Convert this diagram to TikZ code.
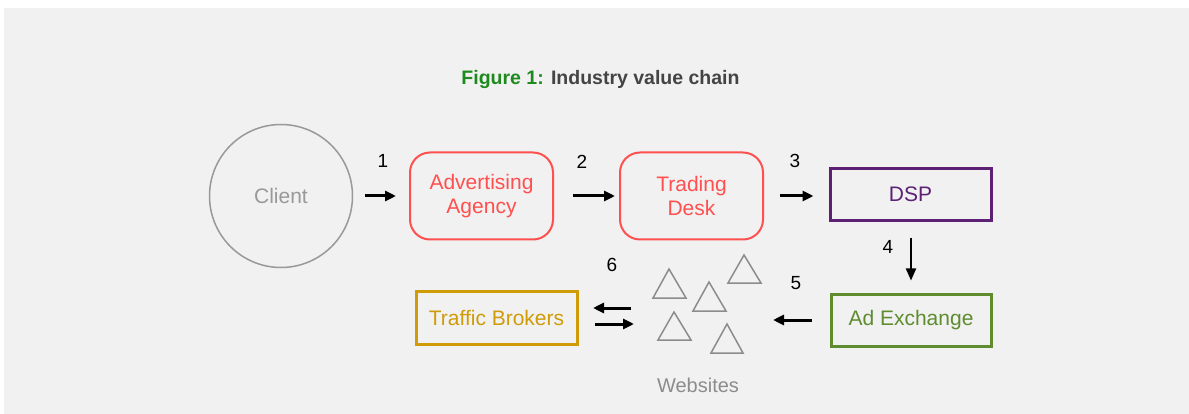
\documentclass[tikz,border=0pt]{standalone}
\usepackage{fontspec}
\setmainfont{Liberation Sans}
\usetikzlibrary{arrows.meta}
\definecolor{bggray}{HTML}{F1F1F1}
\definecolor{agencyred}{HTML}{FF4F4F}
\definecolor{dsppurple}{HTML}{5C2175}
\definecolor{adxgreen}{HTML}{5E8C2E}
\definecolor{brokergold}{HTML}{CF9C08}
\definecolor{clientgray}{HTML}{999999}
\definecolor{sitegray}{HTML}{8C8C8C}
\definecolor{titlegreen}{HTML}{1E8A1E}
\definecolor{titlegray}{HTML}{444444}
\tikzset{
  lbl/.style={font=\fontsize{21}{24}\selectfont, align=center, inner sep=0pt},
  roundbox/.style={lbl, draw=agencyred, text=agencyred, line width=2pt,
    rounded corners=20pt, minimum width=143pt, minimum height=87pt},
  flatbox/.style={lbl, line width=3pt, minimum width=160pt, minimum height=52pt},
  num/.style={font=\fontsize{19}{22}\selectfont, inner sep=0pt},
  arr/.style={line width=3pt, -{Triangle[length=11pt,width=10pt]}},
  thinarr/.style={line width=2pt, -{Triangle[length=12pt,width=10pt]}},
  site/.style={draw=sitegray, line width=1.5pt, line join=miter}
}
\begin{document}
\begin{tikzpicture}[x=1pt, y=-1pt]
  % canvas and backdrop
  \useasboundingbox (0,0) rectangle (1189,414);
  \fill[white] (0,0) rectangle (1189,414);
  \fill[bggray] (4,8) rectangle (1189,414);

  % caption
  \node[font=\bfseries\fontsize{19.5}{22}\selectfont, inner sep=0pt] (title) at (600.5,80)
    {\textcolor{titlegreen}{Figure 1:} \textcolor{titlegray}{Industry value chain}};

  % top row
  \node[lbl, circle, draw=clientgray, line width=1.5pt, text=clientgray,
        minimum size=143pt] (client) at (281,196) {Client};
  \node[roundbox] (agency) at (481.5,196) {Advertising\\Agency};
  \node[roundbox] (desk) at (691.5,196) {Trading\\Desk};
  \node[flatbox, draw=dsppurple, text=dsppurple, minimum width=161pt] (dsp) at (910.5,194.5) {DSP};

  % bottom row
  \node[flatbox, draw=adxgreen, text=adxgreen] (adx) at (911,320) {Ad Exchange};
  \node[flatbox, draw=brokergold, text=brokergold, minimum width=161pt, minimum height=53pt]
    (brokers) at (496.5,317.5) {Traffic Brokers};
  \node[lbl, text=sitegray, font=\fontsize{20}{24}\selectfont] (websites) at (698,385) {Websites};

  % websites cluster
  \draw[site] (669,269) -- (686,298) -- (653,298) -- cycle;
  \draw[site] (709,282) -- (726,311) -- (693,311) -- cycle;
  \draw[site] (744,255) -- (761,283) -- (728,283) -- cycle;
  \draw[site] (674,312) -- (691,340) -- (658,340) -- cycle;
  \draw[site] (727,324) -- (743,353) -- (711,353) -- cycle;

  % free ends of the arrows touching the cluster
  \coordinate (siteIn) at (773,320);
  \coordinate (siteOut) at (631,308);
  \coordinate (brokerOut) at (595,324);
  \coordinate (siteIn2) at (634,324);
  \coordinate (brokerIn) at (593,308);

  % flow arrows
  \draw[arr, shorten <=12pt, shorten >=13pt] (client.east) -- (agency.west);
  \draw[arr, shorten <=19pt, shorten >=4pt] (agency.east) -- (desk.west);
  \draw[arr, shorten <=16pt, shorten >=15pt] (desk.east) -- (desk.east -| dsp.west);
  \draw[thinarr, shorten <=16pt, shorten >=12pt] (dsp.south -| adx.north) -- (adx.north);
  \draw[arr, shorten <=18pt] (adx.west) -- (siteIn);
  \draw[arr] (siteOut) -- (brokerIn);
  \draw[arr] (brokerOut) -- (siteIn2);

  % step numbers
  \node[num] (n1) at (383,161) {1};
  \node[num] (n2) at (582,162) {2};
  \node[num] (n3) at (795,161) {3};
  \node[num] (n4) at (888,247) {4};
  \node[num] (n5) at (796,283) {5};
  \node[num] (n6) at (612,265) {6};
\end{tikzpicture}
\end{document}
